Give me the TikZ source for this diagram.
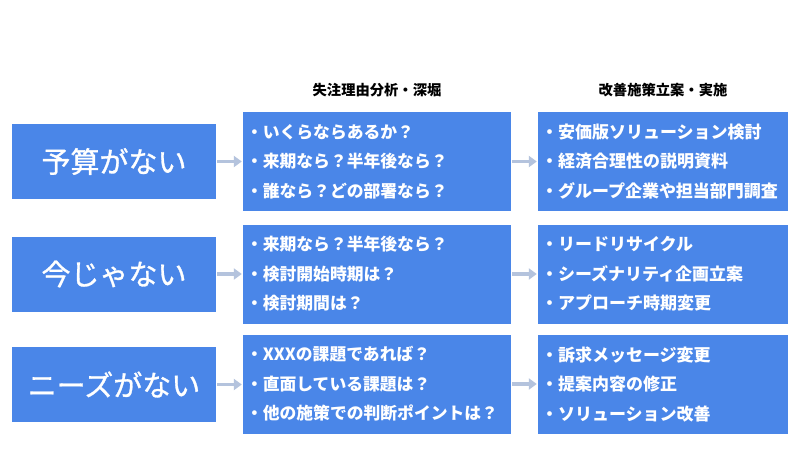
\documentclass[tikz,border=0pt]{standalone}
\usepackage{fontspec}
\setmainfont{Noto Sans CJK JP}
\newfontfamily\jpmed[FakeBold=1.0]{Noto Sans CJK JP}
\usetikzlibrary{arrows.meta}
\definecolor{boxblue}{HTML}{4A86E8}
\definecolor{arrowc}{HTML}{B4C3DD}
\begin{document}
\begin{tikzpicture}[x=1pt,y=-1pt,
  bigbox/.style={fill=boxblue,text=white,minimum width=204pt,minimum height=75pt,inner sep=0pt,font=\jpmed\fontsize{29}{32}\selectfont},
  midbox/.style={fill=boxblue,text=white,minimum width=268pt,minimum height=99pt,inner xsep=3pt,inner ysep=0pt,text width=262pt,align=left,font=\bfseries\fontsize{16.8}{29.5}\selectfont},
  rbox/.style={fill=boxblue,text=white,minimum width=250pt,minimum height=99pt,inner xsep=3pt,inner ysep=0pt,text width=244pt,align=left,font=\bfseries\fontsize{17}{29.5}\selectfont},
  head/.style={font=\bfseries\fontsize{14.3}{16}\selectfont,text=black},
  conn/.style={arrowc,line width=3.4pt,-{Triangle[length=8pt,width=11pt]}}
]
\useasboundingbox[fill=white] (0,0) rectangle (800,450);
\node[head] (h1) at (377,90) {失注理由分析・深堀};
\node[head] (h2) at (663,90) {改善施策立案・実施};

\node[bigbox] (a1) at (114,161.5) {予算がない};
\node[midbox] (b1) at (377,161.5) {・いくらならあるか？\\・来期なら？半年後なら？\\・誰なら？どの部署なら？};
\node[rbox] (c1) at (663,161.5) {・安価版ソリューション検討\\・経済合理性の説明資料\\・グループ企業や担当部門調査};

\node[bigbox] (a2) at (114,274) {今じゃない};
\node[midbox] (b2) at (377,274) {・来期なら？半年後なら？\\・検討開始時期は？\\・検討期間は？};
\node[rbox] (c2) at (663,274) {・リードリサイクル\\・シーズナリティ企画立案\\・アプローチ時期変更};

\node[bigbox] (a3) at (114,384.5) {ニーズがない};
\node[midbox] (b3) at (377,384) {・XXXの課題であれば？\\・直面している課題は？\\・他の施策での判断ポイントは？};
\node[rbox] (c3) at (663,384) {・訴求メッセージ変更\\・提案内容の修正\\・ソリューション改善};

\foreach \i in {1,2,3}{
  \draw[conn] ([xshift=1pt]a\i.east) -- ([xshift=-1pt]b\i.west |- a\i.east);
  \draw[conn] ([xshift=1pt]b\i.east) -- ([xshift=-1pt]c\i.west);
}
\end{tikzpicture}
\end{document}
